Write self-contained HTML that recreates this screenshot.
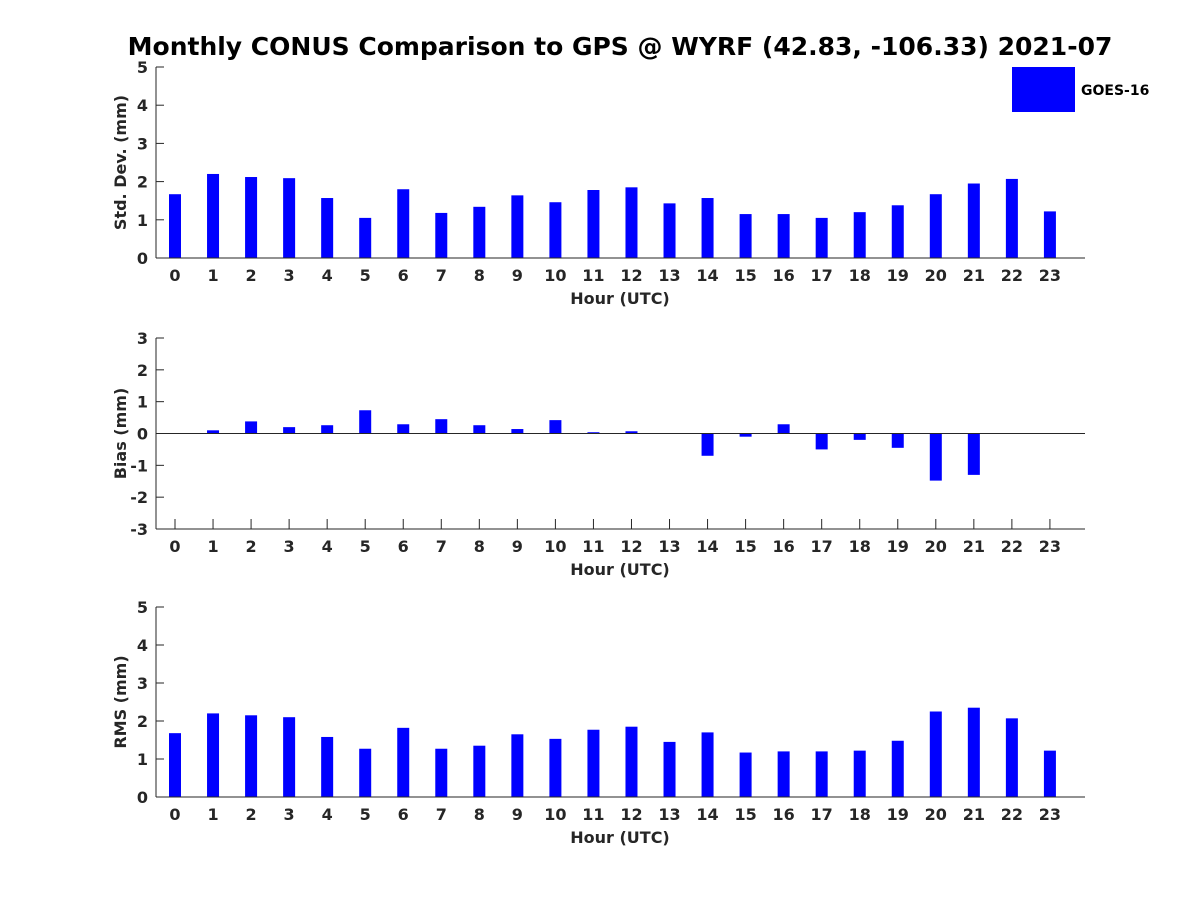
<!DOCTYPE html>
<html><head><meta charset="utf-8"><style>
body{margin:0;background:#fff}
svg{display:block;font-family:"DejaVu Sans","Liberation Sans",sans-serif;font-weight:bold}
</style></head><body>
<svg id="c" width="1200" height="900">
<text x="620" y="55" text-anchor="middle" font-size="25" fill="#000">Monthly CONUS Comparison to GPS @ WYRF (42.83, -106.33) 2021-07</text>
<rect x="1012" y="67" width="63" height="45" fill="#0000ff"/>
<text x="1081" y="95" font-size="14" fill="#000">GOES-16</text>
</svg>
<script>
const hours=[0,1,2,3,4,5,6,7,8,9,10,11,12,13,14,15,16,17,18,19,20,21,22,23];
const stdDev=[1.67,2.2,2.12,2.09,1.57,1.05,1.8,1.18,1.34,1.64,1.46,1.78,1.85,1.43,1.57,1.15,1.15,1.05,1.2,1.38,1.67,1.95,2.07,1.22];
const bias=[0,0.1,0.38,0.2,0.26,0.73,0.29,0.45,0.26,0.14,0.42,0.04,0.07,0,-0.7,-0.1,0.29,-0.5,-0.2,-0.45,-1.48,-1.3,0,-0.01];
const rms=[1.68,2.2,2.15,2.1,1.58,1.27,1.82,1.27,1.35,1.65,1.53,1.77,1.85,1.45,1.7,1.17,1.2,1.2,1.22,1.48,2.25,2.35,2.07,1.22];
const stdTicks=[0,1,2,3,4,5], biasTicks=[-3,-2,-1,0,1,2,3], rmsTicks=[0,1,2,3,4,5];
const svg=document.getElementById('c');const NS='http://www.w3.org/2000/svg';
function mk(t,a,p){const e=document.createElementNS(NS,t);for(const k in a)e.setAttribute(k,a[k]);(p||svg).appendChild(e);return e;}
const L=156,R=1085;
const xs=h=>175+h*38.04;
function panel(name,vals,ticks,ymin,ymax,top,bot,ylabel){
  const g=mk('g',{});
  
  
  const ys=v=>bot-(v-ymin)/(ymax-ymin)*(bot-top);
  hours.forEach(h=>{
    mk('line',{x1:xs(h),y1:bot,x2:xs(h),y2:bot-10,stroke:'#262626'},g);
    const tx=mk('text',{x:xs(h),y:bot+23,'text-anchor':'middle','font-size':16,fill:'#262626'},g);tx.textContent=h;
    
    
  });
  vals.forEach((v,i)=>{
    const y0=ys(Math.max(0,v)),y1=ys(Math.min(0,v));
    const r=mk('rect',{x:xs(hours[i])-6,y:y0,width:12,height:Math.max(0,y1-y0),fill:'#0000ff'},g);
    
    
  });
  mk('line',{x1:L,y1:top,x2:L,y2:bot,stroke:'#262626'},g);
  mk('line',{x1:L,y1:bot,x2:R,y2:bot,stroke:'#262626'},g);
  if(ymin<0) mk('line',{x1:L,y1:ys(0),x2:R,y2:ys(0),stroke:'#262626'},g);
  ticks.forEach(t=>{
    mk('line',{x1:L,y1:ys(t),x2:L+8,y2:ys(t),stroke:'#262626'},g);
    const tx=mk('text',{x:L-8,y:ys(t)+6,'text-anchor':'end','font-size':16,fill:'#262626'},g);tx.textContent=t;
    
    
  });
  const xl=mk('text',{x:620,y:bot+46,'text-anchor':'middle','font-size':16,fill:'#262626'},g);xl.textContent='Hour (UTC)';
  
  
  const cy=(top+bot)/2;
  const yl=mk('text',{x:126,y:cy,'text-anchor':'middle','font-size':16,fill:'#262626',transform:'rotate(-90 126 '+cy+')'},g);yl.textContent=ylabel;
  
  
}
panel('std-dev',stdDev,stdTicks,0,5,67,258,'Std. Dev. (mm)');
panel('bias',bias,biasTicks,-3,3,338,529,'Bias (mm)');
panel('rms',rms,rmsTicks,0,5,607,797,'RMS (mm)');
</script>
</body></html>
